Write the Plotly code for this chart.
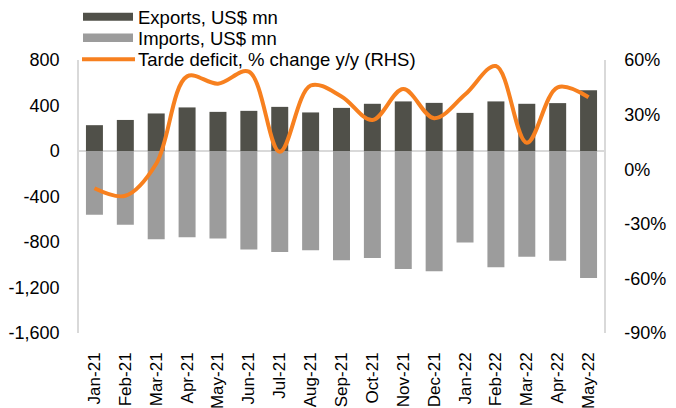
import plotly.graph_objects as go

months = ["Jan-21", "Feb-21", "Mar-21", "Apr-21", "May-21", "Jun-21", "Jul-21", "Aug-21",
          "Sep-21", "Oct-21", "Nov-21", "Dec-21", "Jan-22", "Feb-22", "Mar-22", "Apr-22", "May-22"]
exports = [227, 273, 330, 383, 344, 353, 388, 339, 379, 415, 436, 423, 335, 436, 415, 421, 533]
imports = [-561, -649, -776, -758, -770, -867, -888, -873, -961, -941, -1038, -1058, -805, -1023, -929, -964, -1117]
deficit_yoy = [-10.5, -14.6, 3, 51, 47, 53.6, 9.6, 46, 40, 27, 44, 28, 41, 56.7, 14.6, 45, 39.5]

series_names = ["Exports, US$ mn", "Imports, US$ mn", "Tarde deficit, % change y/y (RHS)"]
series_colors = ["#505049", "#9C9C9C", "#F7801F"]

left_ticks = [800, 400, 0, -400, -800, -1200, -1600]
left_ticktext = ["800", "400", "0", "-400", "-800", "-1,200", "-1,600"]
right_ticks = [60, 30, 0, -30, -60, -90]
right_ticktext = ["60%", "30%", "0%", "-30%", "-60%", "-90%"]

FONT = "Liberation Sans, Arial, sans-serif"
W, H = 676, 408
OFF = 8  # page body margin offset
L = 79 - OFF
T = 60 - OFF
PR = 604 - OFF          # plot right edge in figure px
PB = 333 - OFF          # plot bottom edge in figure px
R = W - PR
B = H - PB
PW, PH = PR - L, PB - T


def px_x(sx):
    return (sx - OFF - L) / PW


def px_y(sy):
    return (PB - (sy - OFF)) / PH


fig = go.Figure()
fig.add_trace(go.Bar(x=months, y=exports, name=series_names[0], marker_color=series_colors[0],
                     marker_line_width=0))
fig.add_trace(go.Bar(x=months, y=imports, name=series_names[1], marker_color=series_colors[1],
                     marker_line_width=0))
fig.add_trace(go.Scatter(x=months, y=deficit_yoy, name=series_names[2],
                         mode="lines", line=dict(color=series_colors[2], width=4, shape="spline", smoothing=1.0),
                         yaxis="y2"))

# manual legend (top-left, above the plot area)
shapes = [
    dict(type="rect", xref="paper", yref="paper", x0=px_x(83), x1=px_x(133), y0=px_y(20.7), y1=px_y(12.7),
         fillcolor=series_colors[0], line=dict(width=0)),
    dict(type="rect", xref="paper", yref="paper", x0=px_x(83), x1=px_x(133), y0=px_y(42), y1=px_y(33.5),
         fillcolor=series_colors[1], line=dict(width=0)),
    dict(type="line", xref="paper", yref="paper", x0=px_x(82), x1=px_x(135), y0=px_y(59.3), y1=px_y(59.3),
         line=dict(color=series_colors[2], width=4)),
]
legend_y = [17.2, 38.0, 59.3]
annotations = [
    dict(xref="paper", yref="paper", x=px_x(137), y=px_y(yy), text=name, showarrow=False,
         xanchor="left", yanchor="middle", borderpad=0, font=dict(size=18.5, family=FONT, color="#000000"))
    for name, yy in zip(series_names, legend_y)
]

fig.update_layout(
    width=W, height=H,
    margin=dict(l=L, r=R, t=T, b=B, autoexpand=False),
    paper_bgcolor="white", plot_bgcolor="white",
    barmode="relative", bargap=0.45,
    font=dict(family=FONT, size=18, color="#000000"),
    showlegend=False,
    shapes=shapes, annotations=annotations,
    xaxis=dict(tickangle=-90, showgrid=False, showline=False, ticks="", tickmode="array",
               tickvals=months, ticktext=months, tickfont=dict(size=17), ticklabelstandoff=15),
    yaxis=dict(range=[-1600, 800], tickvals=left_ticks, ticktext=left_ticktext, showgrid=False,
               zeroline=True, zerolinecolor="#D9D9D9", zerolinewidth=1.5,
               showline=True, linecolor="#D9D9D9", linewidth=1.5, ticks="", tickfont=dict(size=18),
               ticklabelstandoff=14),
    yaxis2=dict(range=[-90, 60], tickvals=right_ticks, ticktext=right_ticktext, overlaying="y",
                side="right", showgrid=False, zeroline=False, showline=True, linecolor="#D9D9D9",
                linewidth=1.5, ticks="", tickfont=dict(size=18), ticklabelstandoff=15),
)

fig.write_html("out.html")
